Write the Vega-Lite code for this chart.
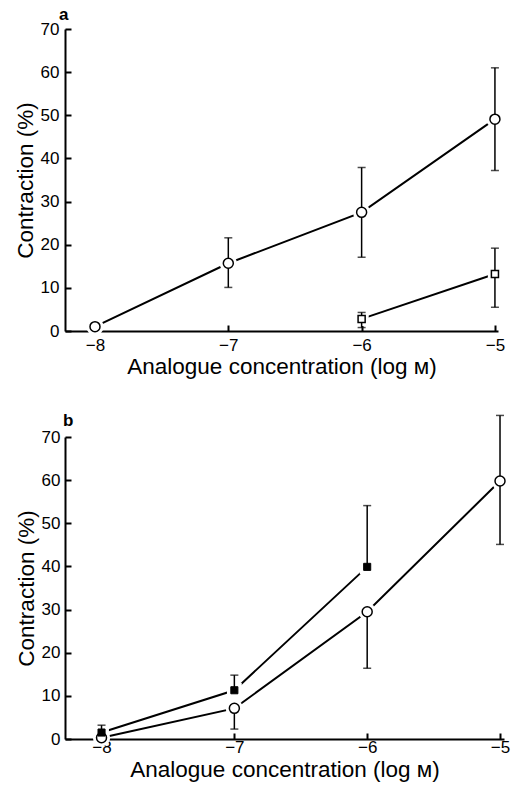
{
  "$schema": "https://vega.github.io/schema/vega-lite/v6.json",
  "background": "white",
  "padding": {"left": 14, "top": 6, "right": 4, "bottom": 2},
  "spacing": 106,
  "bounds": "flush",
  "config": {
    "view": {"stroke": null},
    "font": "Liberation Sans",
    "axis": {
      "grid": false,
      "domainColor": "black",
      "domainWidth": 2,
      "tickColor": "black",
      "tickWidth": 2,
      "tickSize": -6,
      "labelFont": "Liberation Sans",
      "labelFontSize": 17,
      "labelColor": "black",
      "titleFont": "Liberation Sans",
      "titleFontSize": 22.5,
      "titleFontWeight": "normal",
      "titleColor": "black"
    },
    "title": {"font": "Liberation Sans", "fontSize": 17, "fontWeight": "bold", "color": "black", "anchor": "start", "frame": "group"}
  },
  "datasets": {
    "a": [
      {"s": "circle", "x": -8, "y": 1.0, "lo": null, "hi": null},
      {"s": "circle", "x": -7, "y": 15.7, "lo": 10.1, "hi": 21.6},
      {"s": "circle", "x": -6, "y": 27.5, "lo": 17.1, "hi": 37.9},
      {"s": "circle", "x": -5, "y": 49.1, "lo": 37.2, "hi": 61.0},
      {"s": "square", "x": -6, "y": 2.8, "lo": 0.8, "hi": 4.3},
      {"s": "square", "x": -5, "y": 13.2, "lo": 5.5, "hi": 19.2}
    ],
    "b": [
      {"s": "circle", "x": -8, "y": 0.3, "lo": null, "hi": null},
      {"s": "circle", "x": -7, "y": 7.1, "lo": 2.3, "hi": null},
      {"s": "circle", "x": -6, "y": 29.5, "lo": 16.4, "hi": null},
      {"s": "circle", "x": -5, "y": 59.8, "lo": 45.1, "hi": 75.0},
      {"s": "square", "x": -8, "y": 1.5, "lo": null, "hi": 3.2},
      {"s": "square", "x": -7, "y": 11.3, "lo": null, "hi": 14.8},
      {"s": "square", "x": -6, "y": 39.9, "lo": null, "hi": 54.1}
    ]
  },
  "vconcat": [
    {
      "width": 433,
      "height": 302,
      "data": {"name": "a"},
      "title": {"text": "a", "dx": -6, "offset": -4},
      "encoding": {
        "x": {"field": "x", "type": "quantitative", "title": "Analogue concentration (log ᴍ)",
          "scale": {"domain": [-8.225, -4.977], "nice": false, "zero": false},
          "axis": {"values": [-8, -7, -6, -5], "labelPadding": 12, "titlePadding": 2}},
        "y": {"field": "y", "type": "quantitative", "title": "Contraction (%)",
          "scale": {"domain": [0, 70], "nice": false},
          "axis": {"values": [0, 10, 20, 30, 40, 50, 60, 70], "labelPadding": 12, "titlePadding": 3}}
      },
      "layer": [
        {"mark": {"type": "line", "color": "black", "strokeWidth": 2}, "encoding": {"detail": {"field": "s"}}},
        {"transform": [{"filter": "datum.s == 'circle'"}], "mark": {"type": "point", "shape": "circle", "filled": true, "color": "white", "opacity": 1, "size": 300}},
        {"transform": [{"filter": "datum.s == 'square'"}], "mark": {"type": "point", "shape": "square", "filled": true, "color": "white", "opacity": 1, "size": 200}},
        {"mark": {"type": "rule", "color": "black", "strokeWidth": 1.5}, "encoding": {"y": {"field": "lo", "type": "quantitative", "title": "Contraction (%)"}, "y2": {"field": "y"}}},
        {"mark": {"type": "rule", "color": "black", "strokeWidth": 1.5}, "encoding": {"y": {"field": "y", "type": "quantitative", "title": "Contraction (%)"}, "y2": {"field": "hi"}}},
        {"mark": {"type": "tick", "orient": "horizontal", "color": "black", "size": 8, "thickness": 1.5}, "encoding": {"y": {"field": "lo", "type": "quantitative", "title": "Contraction (%)"}}},
        {"mark": {"type": "tick", "orient": "horizontal", "color": "black", "size": 8, "thickness": 1.5}, "encoding": {"y": {"field": "hi", "type": "quantitative", "title": "Contraction (%)"}}},
        {"transform": [{"filter": "datum.s == 'circle'"}], "mark": {"type": "point", "shape": "circle", "filled": true, "fill": "white", "stroke": "black", "strokeWidth": 1.5, "opacity": 1, "size": 100}},
        {"transform": [{"filter": "datum.s == 'square'"}], "mark": {"type": "point", "shape": "square", "filled": true, "fill": "white", "stroke": "black", "strokeWidth": 1.5, "opacity": 1, "size": 50}}
      ]
    },
    {
      "width": 439,
      "height": 302,
      "data": {"name": "b"},
      "title": {"text": "b", "dx": -2, "offset": -15},
      "encoding": {
        "x": {"field": "x", "type": "quantitative", "title": "Analogue concentration (log ᴍ)",
          "scale": {"domain": [-8.275, -4.97], "nice": false, "zero": false},
          "axis": {"values": [-8, -7, -6, -5], "labelPadding": 6, "titlePadding": 3}},
        "y": {"field": "y", "type": "quantitative", "title": "Contraction (%)",
          "scale": {"domain": [0, 70], "nice": false},
          "axis": {"values": [0, 10, 20, 30, 40, 50, 60, 70], "labelPadding": 11, "titlePadding": 3}}
      },
      "layer": [
        {"mark": {"type": "line", "color": "black", "strokeWidth": 2}, "encoding": {"detail": {"field": "s"}}},
        {"transform": [{"filter": "datum.s == 'circle'"}], "mark": {"type": "point", "shape": "circle", "filled": true, "color": "white", "opacity": 1, "size": 300}},
        {"transform": [{"filter": "datum.s == 'square'"}], "mark": {"type": "point", "shape": "square", "filled": true, "color": "white", "opacity": 1, "size": 220}},
        {"mark": {"type": "rule", "color": "black", "strokeWidth": 1.5}, "encoding": {"y": {"field": "lo", "type": "quantitative", "title": "Contraction (%)"}, "y2": {"field": "y"}}},
        {"mark": {"type": "rule", "color": "black", "strokeWidth": 1.5}, "encoding": {"y": {"field": "y", "type": "quantitative", "title": "Contraction (%)"}, "y2": {"field": "hi"}}},
        {"mark": {"type": "tick", "orient": "horizontal", "color": "black", "size": 8, "thickness": 1.5}, "encoding": {"y": {"field": "lo", "type": "quantitative", "title": "Contraction (%)"}}},
        {"mark": {"type": "tick", "orient": "horizontal", "color": "black", "size": 8, "thickness": 1.5}, "encoding": {"y": {"field": "hi", "type": "quantitative", "title": "Contraction (%)"}}},
        {"transform": [{"filter": "datum.s == 'circle'"}], "mark": {"type": "point", "shape": "circle", "filled": true, "fill": "white", "stroke": "black", "strokeWidth": 1.5, "opacity": 1, "size": 100}},
        {"transform": [{"filter": "datum.s == 'square'"}], "mark": {"type": "point", "shape": "square", "filled": true, "fill": "black", "stroke": "black", "strokeWidth": 1, "opacity": 1, "size": 50}}
      ]
    }
  ]
}
